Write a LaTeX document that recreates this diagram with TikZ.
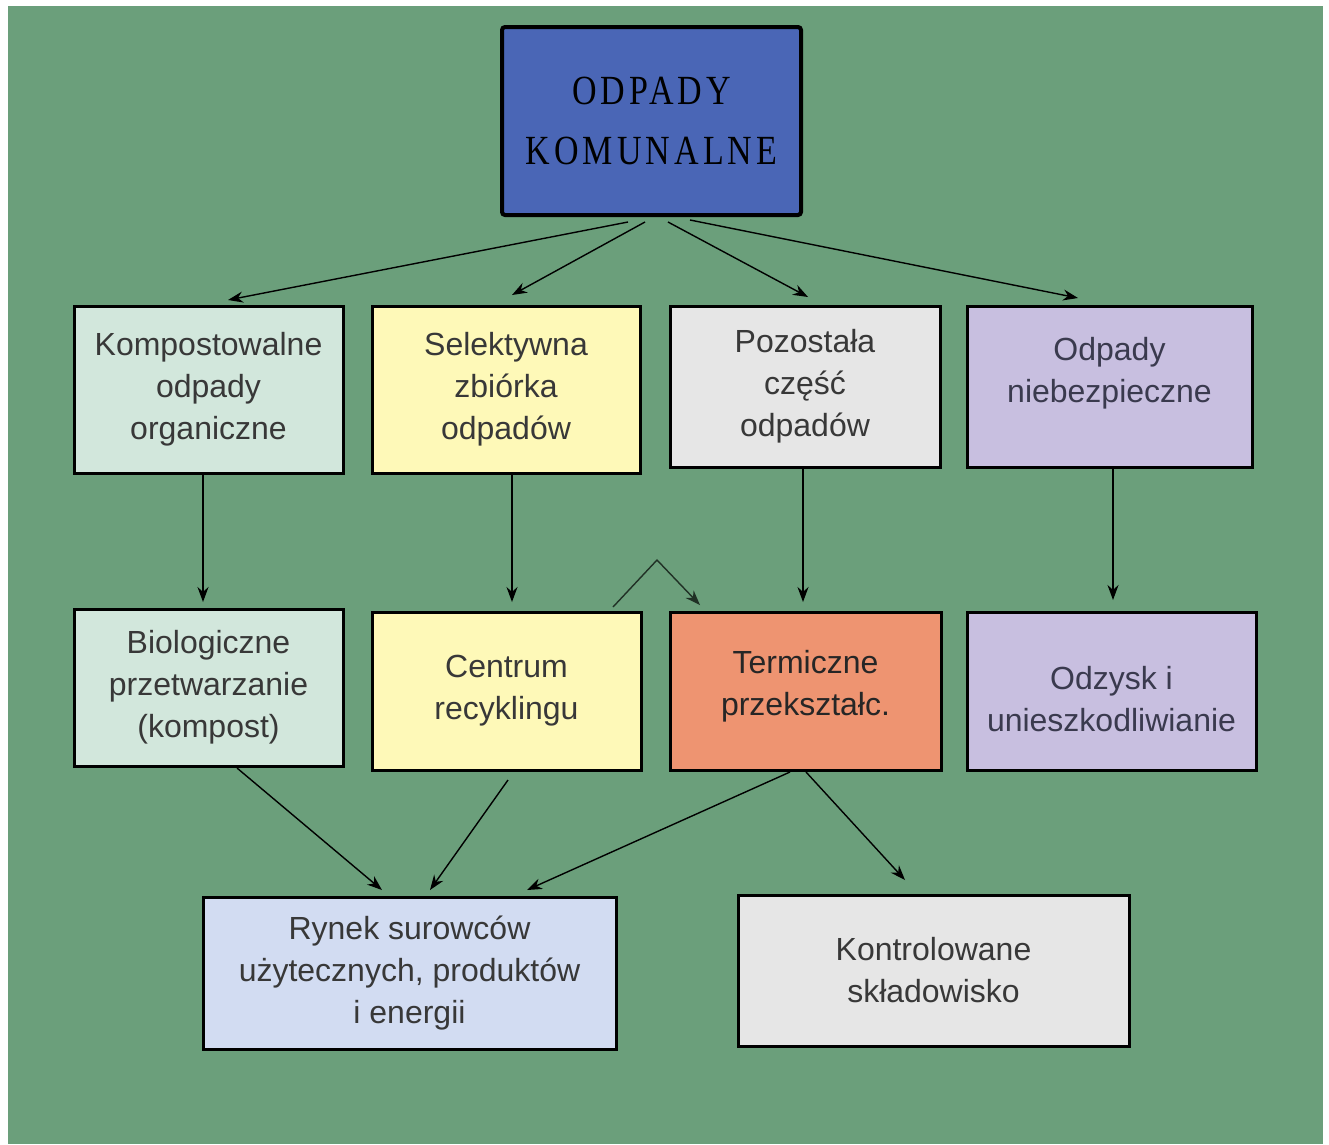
\documentclass[tikz,border=0pt]{standalone}
\usepackage{fontspec}
\setmainfont{Liberation Sans}
\newfontfamily\titlefont{Liberation Serif}[LetterSpace=12]
\usetikzlibrary{arrows.meta}
\definecolor{bggreen}{HTML}{6B9F7B}
\definecolor{topblue}{HTML}{4A66B6}
\definecolor{mint}{HTML}{D2E7DC}
\definecolor{paleyellow}{HTML}{FEF9B8}
\definecolor{palegrey}{HTML}{E6E6E6}
\definecolor{lilac}{HTML}{C8BFE0}
\definecolor{salmon}{HTML}{EE9471}
\definecolor{paleblue}{HTML}{D2DCF2}
\definecolor{txtgrey}{HTML}{383838}
\definecolor{txtblue}{HTML}{3A3A4E}
\begin{document}
\begin{tikzpicture}[x=1pt,y=-1pt,
  box/.style={draw=black,line width=3pt,inner sep=0pt,outer sep=0pt,align=center,
    font=\fontsize{32}{42}\selectfont,text=txtgrey},
  txt/.style={inner sep=0pt,align=center,font=\fontsize{32}{42}\selectfont},
  arr/.style={line width=1.4pt,draw=black,-{Stealth[length=15pt,width=11pt]}}]
\useasboundingbox (0,0) rectangle (1329,1144);
\fill[white] (0,0) rectangle (1329,1144);
\fill[bggreen] (8,6) rectangle (1323,1144);
% top
\node[box,line width=4pt,rounded corners=3pt,fill=topblue,minimum width=299pt,minimum height=188pt,text=black]
  (top) at (651.5,121) {\titlefont\scalebox{1}[1.22]{\fontsize{34}{55}\selectfont\begin{tabular}{@{}c@{}}ODPADY\\[-6pt]KOMUNALNE\end{tabular}}};
% row 1
\node[box,fill=mint,minimum width=269pt,minimum height=167pt] (b1) at (208.5,389.5) {Kompostowalne\\odpady\\organiczne};
\node[box,fill=paleyellow,minimum width=268pt,minimum height=167pt] (b2) at (506,389.5) {Selektywna\\zbiórka\\odpadów};
\node[box,fill=palegrey,minimum width=270pt,minimum height=161pt] (b3) at (805,386.5) {Pozostała\\część\\odpadów};
\node[box,fill=lilac,minimum width=285pt,minimum height=161pt] (b4) at (1109.5,386.5) {};
\node[txt,text=txtblue] (b4t) at ([yshift=13pt]b4.center) {Odpady\\niebezpieczne};
% row 2
\node[box,fill=mint,minimum width=269pt,minimum height=157pt] (b5) at (208.5,687.5) {Biologiczne\\przetwarzanie\\(kompost)};
\node[box,fill=paleyellow,minimum width=269pt,minimum height=158pt] (b6) at (506.5,691) {Centrum\\recyklingu};
\node[box,fill=salmon,minimum width=271pt,minimum height=158pt] (b7) at (805.5,691) {};
\node[txt,text=black!85] (b7t) at ([yshift=5pt]b7.center) {Termiczne\\przekształc.};
\node[box,fill=lilac,minimum width=289pt,minimum height=158pt] (b8) at (1111.5,691) {};
\node[txt,text=txtblue] (b8t) at ([yshift=-8pt]b8.center) {Odzysk i\\unieszkodliwianie};
% row 3
\node[box,fill=paleblue,minimum width=413pt,minimum height=152pt] (b9) at (409.5,973) {Rynek surowców\\użytecznych, produktów\\i energii};
\node[box,fill=palegrey,minimum width=391pt,minimum height=151pt] (b10) at (933.5,970.5) {Kontrolowane\\składowisko};
% arrows from top
\draw[arr] ([xshift=-23.5pt,yshift=-7pt]top.south) -- ([xshift=19.5pt,yshift=6pt]b1.north);
\draw[arr] ([xshift=-6.5pt,yshift=-7pt]top.south) -- ([xshift=6pt,yshift=11pt]b2.north);
\draw[arr] ([xshift=16.5pt,yshift=-7pt]top.south) -- ([xshift=3pt,yshift=9pt]b3.north);
\draw[arr] ([xshift=38.5pt,yshift=-5pt]top.south) -- ([xshift=-31.5pt,yshift=8pt]b4.north);
% vertical arrows
\draw[arr] ([xshift=-5.5pt]b1.south) -- ([xshift=-5.5pt,yshift=7pt]b5.north);
\draw[arr] ([xshift=6pt]b2.south) -- ([xshift=5.5pt,yshift=10pt]b6.north);
\draw[arr] ([xshift=-2pt]b3.south) -- ([xshift=-2.5pt,yshift=10pt]b7.north);
\draw[arr] ([xshift=3.5pt]b4.south) -- ([xshift=1.5pt,yshift=12pt]b8.north);
% bottom arrows
\draw[arr] ([xshift=28.5pt,yshift=-2pt]b5.south) -- ([xshift=-27.5pt,yshift=7pt]b9.north);
\draw[arr] ([xshift=1.5pt,yshift=-10pt]b6.south) -- ([xshift=20.5pt,yshift=7pt]b9.north);
\draw[arr] ([xshift=-15.5pt,yshift=-2pt]b7.south) -- ([xshift=117.5pt,yshift=7pt]b9.north);
\draw[arr] ([xshift=0.5pt,yshift=-2pt]b7.south) -- ([xshift=-28.5pt,yshift=15pt]b10.north);
% peak connector
\coordinate (peak) at (657,560);
\draw[arr,draw=black!70!bggreen] ([xshift=-28pt,yshift=5pt]b6.north east) -- (peak) -- ([xshift=30pt,yshift=7pt]b7.north west);
\end{tikzpicture}
\end{document}
